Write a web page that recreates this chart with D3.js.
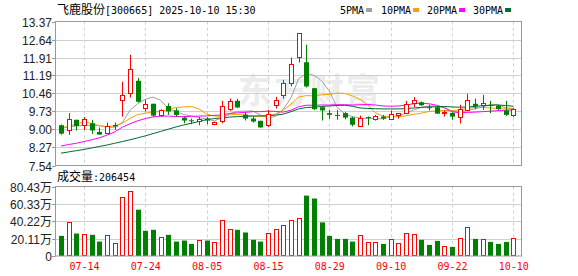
<!DOCTYPE html>
<html><head><meta charset="utf-8">
<script src="https://cdn.jsdelivr.net/npm/d3@7"></script>
<style>body{margin:0;background:#fff}svg{display:block}</style>
</head><body>
<svg id="c" width="578" height="276"></svg>
<script>
const dates = ["07-09","07-10","07-11","07-14","07-15","07-16","07-17","07-18","07-21","07-22",
"07-23","07-24","07-25","07-28","07-29","07-30","07-31","08-01","08-04","08-05",
"08-06","08-07","08-08","08-11","08-12","08-13","08-14","08-15","08-20","08-21",
"08-22","08-25","08-26","08-27","08-28","08-29","09-01","09-02","09-03","09-04",
"09-05","09-08","09-09","09-10","09-11","09-12","09-15","09-16","09-17","09-18",
"09-19","09-22","09-23","09-24","09-25","09-26","09-29","09-30","10-09","10-10"];
const open = [9.17,9.01,9.39,9.18,9.25,8.90,8.85,9.18,10.17,10.47,10.97,9.85,10.04,9.55,9.95,9.77,9.48,9.37,9.31,9.44,
9.21,9.35,9.82,10.16,9.60,9.44,9.35,9.17,9.98,10.39,10.87,11.93,11.72,10.67,9.90,9.66,9.59,9.66,9.48,9.17,
9.50,9.44,9.52,9.41,9.59,9.66,10.06,10.10,9.90,9.90,9.66,9.67,9.48,9.79,10.04,9.99,9.99,9.96,9.77,9.56];
const close = [8.83,9.44,9.14,9.43,8.96,8.79,9.14,9.12,10.39,11.44,10.12,10.02,9.56,9.77,9.73,9.58,9.36,9.33,9.41,9.36,
9.29,9.94,10.16,9.89,9.44,9.32,9.08,9.63,10.20,10.87,11.64,12.90,10.74,9.82,9.77,9.59,9.56,9.48,9.19,9.48,
9.47,9.56,9.44,9.62,9.66,10.02,10.20,9.98,9.87,9.64,9.69,9.52,9.82,10.20,9.95,10.07,9.95,9.82,9.59,9.82];
const high = [9.20,9.66,9.40,9.50,9.39,9.08,9.28,9.28,10.93,12.02,11.08,10.20,10.04,9.82,10.06,9.86,9.50,9.44,9.50,9.50,
9.32,10.16,10.25,10.24,9.69,9.52,9.35,9.79,10.32,11.01,11.91,12.90,12.43,10.67,9.93,9.79,9.79,9.70,9.52,9.56,
9.52,9.59,9.59,9.77,9.66,10.16,10.31,10.13,10.00,9.93,9.77,9.70,10.00,10.44,10.24,10.40,10.16,9.99,10.16,9.86];
const low = [8.79,8.78,8.96,8.98,8.82,8.79,8.82,8.98,9.52,10.29,10.09,9.73,9.52,9.52,9.59,9.52,9.25,9.21,9.17,9.21,
9.17,9.24,9.75,9.86,9.36,9.28,9.08,9.09,9.85,10.25,10.74,11.71,10.70,9.79,9.36,9.43,9.39,9.41,9.12,9.17,
9.17,9.36,9.39,9.39,9.44,9.62,9.90,9.95,9.77,9.63,9.52,9.39,9.24,9.77,9.82,9.79,9.66,9.79,9.55,9.50];
const volume = [23.3,39.6,26.0,25.6,24.5,16.7,24.1,15.2,68.8,75.4,53.6,29.1,30.3,21.8,24.5,16.7,17.9,14.0,18.7,17.9,
16.3,42.0,31.5,30.3,27.2,18.7,16.7,26.8,31.5,36.1,42.0,43.9,69.9,66.5,38.9,23.3,19.8,19.8,16.7,24.1,
16.3,16.3,14.0,19.4,14.8,26.4,25.3,18.7,12.8,17.5,11.3,10.5,20.6,33.4,19.8,19.4,16.3,14.0,16.3,20.6454];
const volUp = [0,1,0,1,0,0,1,1,1,1,0,0,0,1,0,0,0,0,1,0,1,1,1,0,0,0,0,1,1,1,
1,1,0,0,0,0,0,0,0,1,1,1,0,1,1,1,1,0,0,0,1,0,1,1,0,1,0,0,0,1];
const ma5 = [9.05,9.10,9.14,9.17,9.16,9.15,9.09,9.09,9.28,9.78,10.04,10.22,10.31,10.18,9.84,9.73,9.60,9.55,9.48,9.41,
9.35,9.47,9.63,9.73,9.74,9.75,9.58,9.47,9.53,9.82,10.28,11.05,11.27,11.19,10.97,10.56,9.90,9.64,9.52,9.46,
9.44,9.44,9.43,9.51,9.55,9.66,9.79,9.90,9.95,9.94,9.88,9.74,9.71,9.77,9.84,9.91,10.00,10.00,9.88,9.85];
const ma10 = [9.05,9.13,9.22,9.30,9.25,9.15,9.12,9.14,9.25,9.45,9.60,9.66,9.70,9.73,9.81,9.89,9.91,9.93,9.83,9.62,
9.54,9.53,9.59,9.61,9.58,9.55,9.52,9.55,9.63,9.78,10.02,10.31,10.37,10.36,10.40,10.42,10.47,10.46,10.36,10.22,
10.00,9.67,9.54,9.52,9.51,9.55,9.61,9.66,9.73,9.75,9.77,9.76,9.80,9.86,9.89,9.89,9.87,9.85,9.83,9.84];
const ma20 = [8.33,8.39,8.44,8.51,8.58,8.66,8.77,8.90,9.09,9.23,9.35,9.44,9.51,9.54,9.54,9.52,9.52,9.53,9.54,9.55,
9.57,9.59,9.65,9.67,9.69,9.72,9.72,9.74,9.73,9.70,9.78,9.92,9.98,9.98,9.99,9.99,10.00,10.00,9.99,10.00,
10.01,9.99,9.95,9.94,9.95,9.99,10.04,10.06,10.04,9.98,9.88,9.72,9.67,9.69,9.70,9.72,9.74,9.76,9.78,9.79];
const ma30 = [8.04,8.09,8.14,8.19,8.25,8.31,8.37,8.44,8.51,8.58,8.66,8.74,8.83,8.92,9.01,9.10,9.18,9.25,9.32,9.40,
9.44,9.47,9.50,9.52,9.53,9.54,9.55,9.56,9.58,9.62,9.72,9.83,9.89,9.90,9.93,9.95,9.97,9.98,9.94,9.87,
9.85,9.84,9.83,9.83,9.83,9.84,9.87,9.89,9.91,9.92,9.93,9.91,9.90,9.91,9.93,9.96,9.98,9.99,9.97,9.94];
const priceTicks = [13.37,12.64,11.91,11.19,10.46,9.73,9.00,8.27,7.54];
const volTicks = [80.43,60.33,40.22,20.11,0];
const volTickLabels = ["80.43万","60.33万","40.22万","20.11万","0"];
const dateTicks = ["07-14","07-24","08-05","08-15","08-29","09-10","09-22","10-10"];
const maNames = ["5PMA","10PMA","20PMA","30PMA"];
const maColors = ["#a0a0a0","#f5a000","#ff00ff","#006b32"];
const title = {name:"飞鹿股份", rest:"[300665] 2025-10-10 15:30"};
const lastVolume = "206454";

const svg = d3.select("#c");
const L = 55.5, R = 521.5, PT = 21.5, PB = 165.5, VT = 186.5, VB = 256;
const x = d3.scalePoint().domain(dates).range([61, 513.3]);
const y = d3.scaleLinear().domain([7.54, 13.37]).range([PB, PT]);
const yv = d3.scaleLinear().domain([0, 80.43]).range([VB, VT]);
const mono = "'DejaVu Sans Mono','Liberation Mono',monospace";
const cjk = "'Noto Sans CJK SC','Noto Sans',sans-serif";
const RED = "#ff0000", GREEN = "#008000", GRID = "#cfcfcf", BORDER = "#999";

// header
const ht = svg.append("text").attr("x", 57).attr("y", 14).attr("fill", "#000");
ht.append("tspan").attr("font-family", cjk).attr("font-size", 12).text(title.name);
ht.append("tspan").attr("font-family", mono).attr("font-size", 10).text(title.rest);
const legX = [340, 381, 427, 473];
maNames.forEach((n, i) => {
  const t = svg.append("text").attr("x", legX[i]).attr("y", 14).attr("font-family", mono)
    .attr("font-size", 10).attr("fill", "#000").text(n);
  const w = t.node().getComputedTextLength();
  svg.append("rect").attr("x", legX[i] + w + 2).attr("y", 8).attr("width", 6).attr("height", 4).attr("fill", maColors[i]);
});

// watermark
svg.append("text").attr("x", 238).attr("y", 103).attr("font-family", cjk).attr("font-weight", "bold")
  .attr("font-size", 34).attr("letter-spacing", 2).attr("fill", "#ececec").text("东方财富");

// grids
const gp = svg.append("g");
priceTicks.slice(1, -1).forEach(v => {
  const yy = Math.round(y(v)) + 0.5;
  gp.append("line").attr("x1", L).attr("x2", R).attr("y1", yy).attr("y2", yy).attr("stroke", GRID);
});
volTicks.slice(1, -1).forEach(v => {
  const yy = Math.round(yv(v)) + 0.5;
  gp.append("line").attr("x1", L).attr("x2", R).attr("y1", yy).attr("y2", yy).attr("stroke", GRID);
});
dateTicks.forEach(d => {
  const xx = Math.round(x(d)) + 0.5;
  [[PT, PB], [VT, VB]].forEach(([a, b]) =>
    gp.append("line").attr("x1", xx).attr("x2", xx).attr("y1", a).attr("y2", b)
      .attr("stroke", GRID).attr("stroke-dasharray", "3,3"));
});

// axes labels
const axisG = svg.append("g").attr("font-family", "'Liberation Sans',Arial,sans-serif").attr("font-size", 12).attr("fill", "#222");
priceTicks.forEach(v => {
  const yy = Math.round(y(v)) + 0.5;
  axisG.append("text").attr("x", 52).attr("y", yy).attr("dy", "0.35em").attr("text-anchor", "end").text(v.toFixed(2));
  svg.append("line").attr("x1", 52).attr("x2", L).attr("y1", yy).attr("y2", yy).attr("stroke", BORDER);
});
volTicks.forEach((v, i) => {
  const yy = Math.round(yv(v)) + 0.5;
  const t = axisG.append("text").attr("x", 52).attr("y", yy).attr("dy", "0.35em").attr("text-anchor", "end");
  const lab = volTickLabels[i];
  if (lab.endsWith("万")) {
    t.append("tspan").text(lab.slice(0, -1));
    t.append("tspan").attr("font-family", cjk).attr("font-size", 12).text("万");
  } else t.text(lab);
  svg.append("line").attr("x1", 52).attr("x2", L).attr("y1", yy).attr("y2", yy).attr("stroke", BORDER);
});
const xl = svg.append("g").attr("font-family", mono).attr("font-size", 10).attr("fill", RED);
dateTicks.forEach(d => xl.append("text").attr("x", x(d) + 0.5).attr("y", 270).attr("text-anchor", "middle").text(d));

// volume label
const vt = svg.append("text").attr("x", 57).attr("y", 181).attr("fill", "#000");
vt.append("tspan").attr("font-family", cjk).attr("font-size", 12).text("成交量");
vt.append("tspan").attr("font-family", mono).attr("font-size", 10).text(":" + lastVolume);

// MA lines
const maData = [ma5, ma10, ma20, ma30];
const lineGen = d3.line().x((d, i) => x(dates[i])).y(d => y(d));
maData.forEach((arr, i) => {
  svg.append("path").attr("d", lineGen(arr)).attr("fill", "none").attr("stroke", maColors[i]).attr("stroke-width", 1);
});

// candles
const cg = svg.append("g");
dates.forEach((d, i) => {
  const cx = Math.round(x(d));
  const up = close[i] >= open[i];
  const col = up ? RED : GREEN;
  cg.append("line").attr("x1", cx + 0.5).attr("x2", cx + 0.5).attr("y1", y(high[i])).attr("y2", y(low[i])).attr("stroke", col);
  const top = y(Math.max(open[i], close[i])), bot = y(Math.min(open[i], close[i]));
  if (up) {
    cg.append("rect").attr("x", cx - 1.5).attr("y", Math.round(top) + 0.5).attr("width", 4)
      .attr("height", Math.max(1, Math.round(bot - top))).attr("fill", "#fff").attr("stroke", RED);
  } else {
    cg.append("rect").attr("x", cx - 2).attr("y", top).attr("width", 5)
      .attr("height", Math.max(1, bot - top)).attr("fill", GREEN);
  }
});

// volume bars
const vg = svg.append("g");
dates.forEach((d, i) => {
  const cx = Math.round(x(d));
  const t = yv(volume[i]);
  if (volUp[i]) {
    vg.append("rect").attr("x", cx - 1.5).attr("y", Math.round(t) + 0.5).attr("width", 4)
      .attr("height", Math.round(VB - t) - 1).attr("fill", "#fff").attr("stroke", RED);
  } else {
    vg.append("rect").attr("x", cx - 2).attr("y", t).attr("width", 5).attr("height", VB - t).attr("fill", GREEN);
  }
});

// borders
svg.append("rect").attr("x", L).attr("y", PT).attr("width", R - L).attr("height", PB - PT).attr("fill", "none").attr("stroke", BORDER);
svg.append("rect").attr("x", L).attr("y", VT).attr("width", R - L).attr("height", VB - VT).attr("fill", "none").attr("stroke", BORDER);
</script>
</body></html>
